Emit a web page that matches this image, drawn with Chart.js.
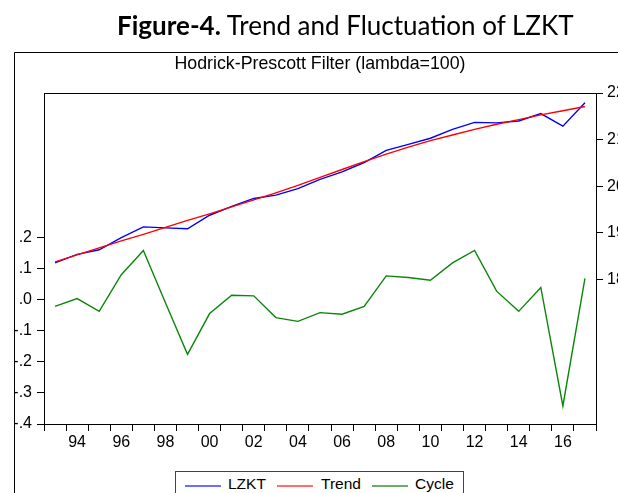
<!DOCTYPE html>
<html>
<head>
<meta charset="utf-8">
<script src="https://cdn.jsdelivr.net/npm/chart.js@4.4.1/dist/chart.umd.min.js"></script>
<style>
  body { margin: 0; background: #fff; }
  #wrap { position: relative; width: 618px; height: 493px; overflow: hidden; background: #fff; }
  #chart { position: absolute; left: 0; top: 0; }
  .txt { position: absolute; white-space: nowrap; color: #000; }
  #heading { left: 117px; top: 12px; font: 26px/26px Lato, sans-serif; }
  #heading b { font-weight: 700; }
  #subtitle { left: 0; width: 640px; text-align: center; top: 54px;
              font: 17.8px/18px "Liberation Sans", Arial, sans-serif; }
  #legend { position: absolute; left: 175px; top: 471px; width: 287px; height: 40px;
            border: 1px solid #444; background: #fff; }
  .lg-line { position: absolute; height: 2px; }
  .lg-text { position: absolute; font: 15.5px/16px "Liberation Sans", Arial, sans-serif; }
</style>
</head>
<body>
<div id="wrap">
  <canvas id="chart" width="618" height="493"></canvas>
  <div id="heading" class="txt"><b>Figure-4.</b> Trend and Fluctuation of LZKT</div>
  <div id="subtitle" class="txt">Hodrick-Prescott Filter (lambda=100)</div>
  <div id="legend"></div>
</div>
<script>
// ---- 数据 ----
const YEARS = ['1993','1994','1995','1996','1997','1998','1999','2000','2001','2002','2003','2004','2005',
               '2006','2007','2008','2009','2010','2011','2012','2013','2014','2015','2016','2017'];
const LZKT  = [18.36, 18.54, 18.64, 18.90, 19.13, 19.11, 19.09, 19.38, 19.57, 19.74, 19.81, 19.95, 20.15,
               20.31, 20.51, 20.77, 20.90, 21.03, 21.22, 21.37, 21.36, 21.40, 21.56, 21.29, 21.79];
const TREND = [18.38, 18.53, 18.68, 18.83, 18.97, 19.12, 19.27, 19.41, 19.56, 19.71, 19.86, 20.02, 20.19,
               20.36, 20.53, 20.69, 20.84, 20.98, 21.10, 21.22, 21.33, 21.43, 21.53, 21.62, 21.71];
const CYCLE = [-0.022, 0.003, -0.038, 0.080, 0.158, -0.010, -0.176, -0.045, 0.014, 0.012, -0.058, -0.070, -0.042,
               -0.047, -0.022, 0.076, 0.071, 0.062, 0.118, 0.158, 0.027, -0.038, 0.039, -0.342, 0.068];
const SERIES_NAMES = ['LZKT', 'Trend', 'Cycle'];
const CYCLE_TICKS = [-0.4, -0.3, -0.2, -0.1, 0, 0.1, 0.2];
const CYCLE_TICK_LABELS = ['-.4', '-.3', '-.2', '-.1', '.0', '.1', '.2'];
const LEVEL_TICKS = [18, 19, 20, 21, 22];

const LINE_COLORS = ['#0000ff', '#ff0000', '#0a870a'];
const LEGEND_COLORS = ['rgba(60,60,255,0.75)', 'rgba(255,60,60,0.75)', 'rgba(40,140,40,0.7)'];
const TICK_FONT = { family: "'Liberation Sans', Arial, sans-serif", size: 16 };

// ---- 外框 ----
const framePlugin = {
    id: 'frame',
    beforeDraw(chart) {
        const ctx = chart.ctx;
        ctx.save();
        ctx.strokeStyle = '#000';
        ctx.lineWidth = 1;
        ctx.beginPath();
        ctx.moveTo(14.5, 493); ctx.lineTo(14.5, 52.5); ctx.lineTo(618, 52.5);
        ctx.stroke();
        ctx.restore();
    },
    afterDraw(chart) {
        const a = chart.chartArea, ctx = chart.ctx;
        ctx.save();
        ctx.strokeStyle = '#000';
        ctx.lineWidth = 1;
        ctx.strokeRect(Math.round(a.left) + 0.5, Math.round(a.top) + 0.5,
                       Math.round(a.right - a.left), Math.round(a.bottom - a.top));
        ctx.restore();
    }
};

function axisGrid() {
    return { drawOnChartArea: false, drawTicks: true, tickLength: 7, color: '#000', tickColor: '#000', lineWidth: 1 };
}

new Chart(document.getElementById('chart'), {
    type: 'line',
    data: {
        labels: YEARS,
        datasets: [
            { label: SERIES_NAMES[0], data: LZKT,  yAxisID: 'y1', borderColor: LINE_COLORS[0], order: 2 },
            { label: SERIES_NAMES[1], data: TREND, yAxisID: 'y1', borderColor: LINE_COLORS[1], order: 1 },
            { label: SERIES_NAMES[2], data: CYCLE, yAxisID: 'y',  borderColor: LINE_COLORS[2], order: 3 }
        ].map(d => Object.assign(d, { borderWidth: 1.4, pointRadius: 0, tension: 0, fill: false }))
    },
    options: {
        responsive: false, animation: false, devicePixelRatio: 1,
        layout: { padding: { top: 93, left: 0, right: 0, bottom: 0 } },
        plugins: { legend: { display: false }, title: { display: false }, tooltip: { enabled: false } },
        scales: {
            x: {
                offset: true,
                grid: Object.assign(axisGrid(), { offset: true }),
                border: { color: '#000' },
                ticks: {
                    autoSkip: false, maxRotation: 0, padding: 2, color: '#000', font: TICK_FONT,
                    callback: (v, i) => (+YEARS[i] % 2 === 0 ? YEARS[i].slice(2) : '')
                },
                afterFit: s => { s.height = 69; }
            },
            y: {
                position: 'left', min: -0.4, max: 0.664,
                grid: axisGrid(), border: { color: '#000' },
                ticks: { padding: 5, color: '#000', font: TICK_FONT, callback: (v, i) => CYCLE_TICK_LABELS[i] },
                afterBuildTicks: s => { s.ticks = CYCLE_TICKS.map(v => ({ value: v })); },
                afterFit: s => { s.width = 44; }
            },
            y1: {
                position: 'right', min: 14.905, max: 22,
                grid: axisGrid(), border: { color: '#000' },
                ticks: { padding: 4, color: '#000', font: TICK_FONT, callback: v => String(v) },
                afterBuildTicks: s => { s.ticks = LEVEL_TICKS.map(v => ({ value: v })); },
                afterFit: s => { s.width = 22; }
            }
        }
    },
    plugins: [framePlugin]
});

// ---- 图例 ----
const legend = document.getElementById('legend');
const legendLineX = [9, 101, 196];
const legendTextX = [52, 145, 239];
SERIES_NAMES.forEach((name, i) => {
    const ln = document.createElement('div');
    ln.className = 'lg-line';
    ln.style.cssText = `left:${legendLineX[i]}px;top:13px;width:36px;background:${LEGEND_COLORS[i]}`;
    const tx = document.createElement('div');
    tx.className = 'lg-text';
    tx.style.cssText = `left:${legendTextX[i]}px;top:4px`;
    tx.textContent = name;
    legend.appendChild(ln);
    legend.appendChild(tx);
});
</script>
</body>
</html>
